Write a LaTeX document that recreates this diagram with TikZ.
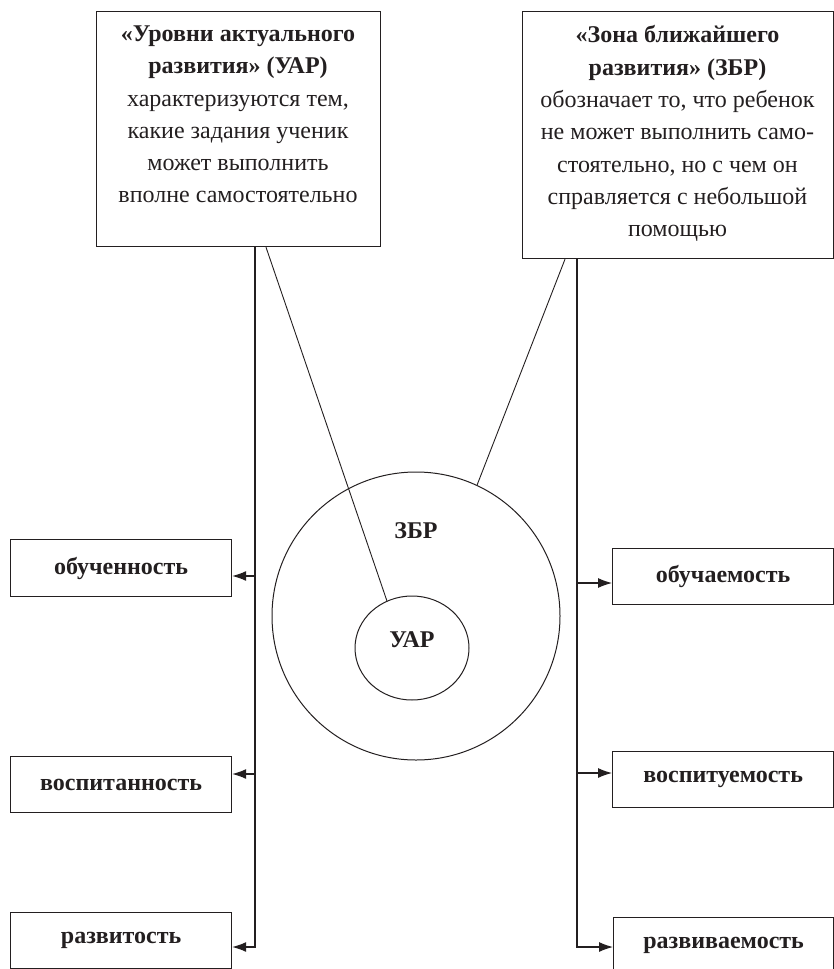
\documentclass[tikz,border=0pt]{standalone}
\usepackage{fontspec}
\setmainfont{Liberation Serif}
\usetikzlibrary{arrows.meta,shapes.geometric}
\definecolor{ink}{HTML}{231F20}
\begin{document}
\begin{tikzpicture}[x=1pt,y=-1pt,
  frame/.style={draw=ink,line width=1.2pt,rectangle,inner sep=0pt},
  txt/.style={font=\fontsize{24}{32.3}\selectfont,align=center,inner sep=0pt,text=ink},
  lbl/.style={font=\bfseries\fontsize{24}{28}\selectfont,text=ink},
  conn/.style={draw=ink,line width=1.1pt},
  diag/.style={draw=ink,line width=0.9pt},
  arr/.style={conn,-{Latex[length=14pt,width=10pt]}}]
\useasboundingbox (0,0) rectangle (834,969);
\clip (0,0) rectangle (834,969);

% top boxes
\node[frame, minimum width=284pt, minimum height=235pt, anchor=north west] (uarbox) at (96,11) {};
\node[txt, anchor=north] (uartext) at (238,25.5) {\textbf{«Уровни актуального}\\\textbf{развития» (УАР)}\\характеризуются тем,\\какие задания ученик\\может выполнить\\вполне самостоятельно};
\node[frame, minimum width=311pt, minimum height=247pt, anchor=north west] (zbrbox) at (522,11) {};
\node[txt, anchor=north] (zbrtext) at (677.5,25.5) {\textbf{«Зона ближайшего}\\\textbf{развития» (ЗБР)}\\обозначает то, что ребенок\\не может выполнить само-\\стоятельно, но с чем он\\справляется с небольшой\\помощью};

% circles
\node[draw=ink,line width=1pt,circle,minimum size=288pt,inner sep=0pt] (zbr) at (416,616) {};
\node[lbl] (zbrlbl) at (416,531) {ЗБР};
\node[draw=ink,line width=1pt,ellipse,minimum width=114pt,minimum height=104pt,inner sep=0pt] (uar) at (412,648) {};
\node[lbl] (uarlbl) at (412,640) {УАР};

% left result boxes
\node[frame, lbl, minimum width=221pt, minimum height=57pt, anchor=north west] (b1) at (10,539) {обученность};
\node[frame, lbl, minimum width=221pt, minimum height=56pt, anchor=north west] (b2) at (10,756) {воспитанность};
\node[frame, lbl, minimum width=221pt, minimum height=56pt, anchor=north west] (b3) at (10,912) {развитость};

% right result boxes
\node[frame, lbl, minimum width=221pt, minimum height=56pt, anchor=north west] (c1) at (612,548) {обучаемость};
\node[frame, lbl, minimum width=221pt, minimum height=56pt, anchor=north west] (c2) at (612,751) {воспитуемость};
\node[frame, lbl, minimum width=220pt, minimum height=56pt, anchor=north west] (c3) at (613,917) {развиваемость};

% left connectors
\coordinate (lv) at (255,947);
\coordinate (la1) at (255,576);
\coordinate (la2) at (255,774);
\draw[arr] (uarbox.south -| lv) -- (lv) -- (lv -| b3.east);
\draw[arr] (la1) -- (la1 -| b1.east);
\draw[arr] (la2) -- (la2 -| b2.east);

% right connectors
\coordinate (rv) at (577,947);
\coordinate (ra1) at (577,583);
\coordinate (ra2) at (577,773);
\draw[arr] (zbrbox.south -| rv) -- (rv) -- (rv -| c3.west);
\draw[arr] (ra1) -- (ra1 -| c1.west);
\draw[arr] (ra2) -- (ra2 -| c2.west);

% diagonals
\draw[diag] (uarbox.south -| 266,0) -- (uar.118);
\draw[diag] (zbrbox.south -| 565,0) -- (zbr.65);
\end{tikzpicture}
\end{document}
